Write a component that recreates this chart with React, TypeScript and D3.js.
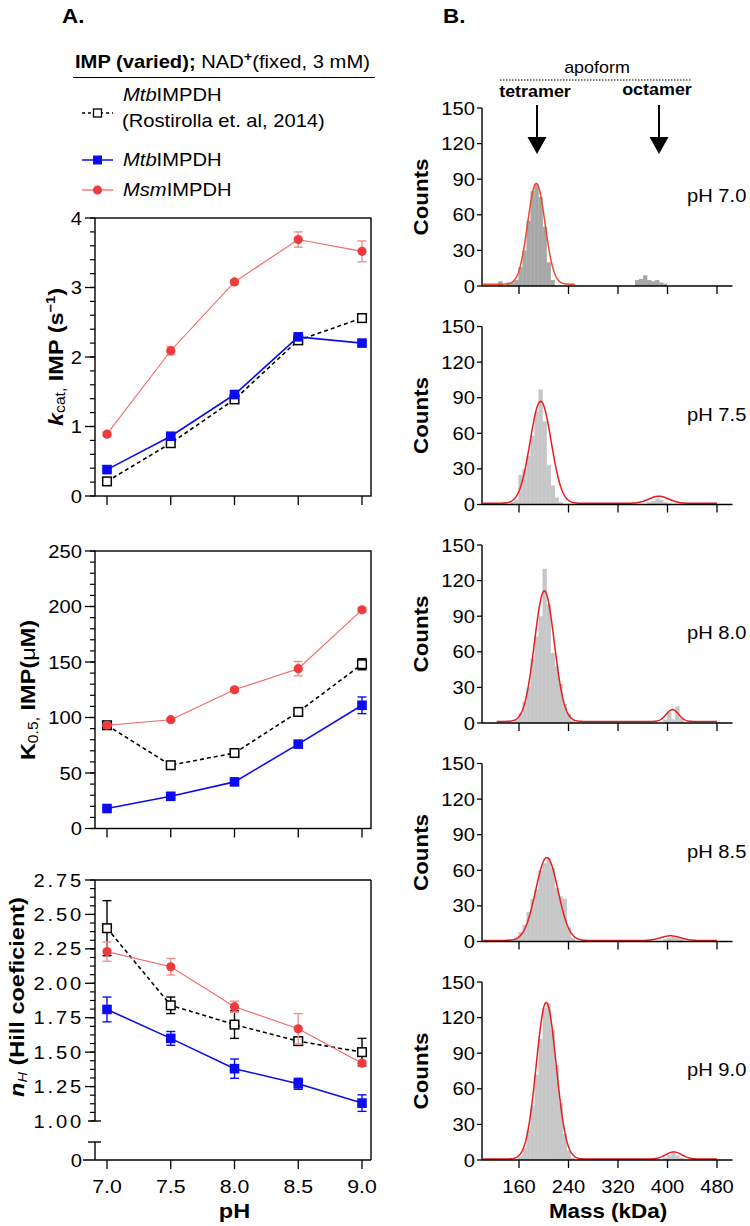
import React, { useEffect, useRef } from 'react';
import * as d3 from 'd3';

const FONT = "'Liberation Sans', Arial, Helvetica, sans-serif";
const SX = 1.12; // glyphs in this figure are set slightly wide

// ---- A. kinetic constants vs pH ----
const PH = [7.0, 7.5, 8.0, 8.5, 9.0];
const PH_TICK_LABELS = ['7.0', '7.5', '8.0', '8.5', '9.0'];

const KCAT_ROSTIROLLA = [0.21, 0.76, 1.39, 2.24, 2.56];
const KCAT_ROSTIROLLA_ERR = [0, 0, 0, 0, 0];
const KCAT_MTB = [0.38, 0.86, 1.46, 2.29, 2.2];
const KCAT_MTB_ERR = [0.02, 0.03, 0.03, 0.04, 0.03];
const KCAT_MSM = [0.89, 2.09, 3.08, 3.69, 3.52];
const KCAT_MSM_ERR = [0.03, 0.06, 0.03, 0.11, 0.15];

const K05_ROSTIROLLA = [93, 57, 68, 105, 148];
const K05_ROSTIROLLA_ERR = [0, 0, 0, 0, 5];
const K05_MTB = [18, 29, 42, 76, 111];
const K05_MTB_ERR = [1, 1.5, 1.5, 2, 7.5];
const K05_MSM = [93, 98, 125, 144, 197];
const K05_MSM_ERR = [1, 1, 2, 6.5, 2];

const NH_ROSTIROLLA = [2.4, 1.84, 1.7, 1.58, 1.5];
const NH_ROSTIROLLA_ERR = [0.2, 0.06, 0.1, 0.02, 0.1];
const NH_MTB = [1.81, 1.6, 1.38, 1.27, 1.13];
const NH_MTB_ERR = [0.09, 0.05, 0.07, 0.04, 0.06];
const NH_MSM = [2.23, 2.12, 1.83, 1.67, 1.42];
const NH_MSM_ERR = [0.07, 0.06, 0.04, 0.11, 0.02];

// ---- B. mass photometry histograms: [bin start (kDa), counts] ----
const BIN_KDA = 6.5;
const PH_LABELS = ['pH 7.0', 'pH 7.5', 'pH 8.0', 'pH 8.5', 'pH 9.0'];
const HIST_PH70 = [
  [126.5, 4], [139.5, 3], [146, 3], [152.5, 5], [159, 16], [165.5, 30], [172, 55], [178.5, 80],
  [185, 86], [191.5, 75], [198, 50], [204.5, 20], [211, 5],
  [347.5, 5], [354, 6], [360.5, 9], [367, 5], [373.5, 4], [380, 5], [386.5, 3], [393, 2],
];
const HIST_PH75 = [
  [133, 2], [146, 2], [152.5, 4], [159, 25], [165.5, 30], [172, 41], [178.5, 58], [185, 78],
  [191.5, 97], [198, 70], [204.5, 33], [211, 16], [217.5, 6], [224, 2],
  [367, 2], [373.5, 3], [380, 5], [386.5, 4], [393, 2], [399.5, 1],
];
const HIST_PH80 = [
  [152.5, 3], [159, 8], [165.5, 18], [172, 30], [178.5, 54], [185, 73], [191.5, 90], [198, 130],
  [204.5, 100], [211, 59], [217.5, 48], [224, 33], [230.5, 16], [237, 8], [243.5, 2],
  [393, 3], [399.5, 9], [406, 3], [412.5, 14], [419, 4],
];
const HIST_PH85 = [
  [139.5, 2], [152.5, 3], [159, 8], [165.5, 14], [172, 25], [178.5, 36], [185, 44], [191.5, 60],
  [198, 66], [204.5, 70], [211, 62], [217.5, 45], [224, 38], [230.5, 36], [237, 12], [243.5, 3],
  [393, 2], [399.5, 3], [406, 4], [412.5, 3], [419, 2],
];
const HIST_PH90 = [
  [159, 3], [165.5, 10], [172, 25], [178.5, 46], [185, 72], [191.5, 102], [198, 128], [204.5, 132],
  [211, 110], [217.5, 80], [224, 48], [230.5, 22], [237, 8], [243.5, 2],
  [393, 2], [399.5, 4], [406, 6], [412.5, 4], [419, 2],
];
const HISTOGRAMS = [HIST_PH70, HIST_PH75, HIST_PH80, HIST_PH85, HIST_PH90];

// gaussian fits: [amplitude, centre kDa, sigma kDa]
const FIT_TETRAMER = [[85, 188, 14], [86, 195, 17], [110, 201, 16], [70, 205, 18], [132, 204, 16]];
const FIT_OCTAMER = [[0, 0, 1], [6, 386, 16], [10, 408, 10], [4, 405, 16], [6, 410, 13]];
const FIT_BASE = [1.5, 1, 1.3, 0.8, 0.8];
const FIT_RANGE = [[102, 250], [102, 480], [124, 480], [102, 480], [102, 480]];

const MASS_TICKS = [160, 240, 320, 400, 480];
const COUNT_TICKS = [0, 30, 60, 90, 120, 150];

const BLUE = '#0c0cf2';
const RED = '#ef3b3b';
const RED_LINE = '#f06868';
const RED_ERR = '#f29090';

type Part = { t: string; b?: boolean; i?: boolean; size?: number; dy?: number };
type Sel = d3.Selection<any, unknown, null, undefined>;

function richText(parent: Sel, x: number, y: number, parts: Part[], size: number, anchor = 'start', rotate = false) {
  const el = parent.append('text')
    .attr('transform', `translate(${x},${y})${rotate ? ' rotate(-90)' : ''} scale(${SX},1)`)
    .attr('text-anchor', anchor)
    .style('font-family', FONT)
    .style('font-size', `${size}px`)
    .attr('fill', '#000');
  let cur = 0;
  parts.forEach(p => {
    const shift = p.dy ?? 0;
    el.append('tspan')
      .attr('dy', shift - cur)
      .style('font-weight', p.b ? 'bold' : 'normal')
      .style('font-style', p.i ? 'italic' : 'normal')
      .style('font-size', p.size ? `${p.size}px` : null)
      .text(p.t);
    cur = shift;
  });
  return el;
}

type Series = { values: number[]; err: number[]; kind: 'rost' | 'mtb' | 'msm' };

function drawSeries(g: Sel, x: d3.ScaleLinear<number, number>, y: d3.ScaleLinear<number, number>, s: Series) {
  const color = s.kind === 'rost' ? '#000' : s.kind === 'mtb' ? BLUE : RED;
  const errColor = s.kind === 'msm' ? RED_ERR : color;
  const pts = PH.map((p, i) => ({ p, v: s.values[i], e: s.err[i] }));

  const line = d3.line<{ p: number; v: number }>().x(d => x(d.p)).y(d => y(d.v));
  g.append('path')
    .datum(pts)
    .attr('fill', 'none')
    .attr('stroke', s.kind === 'msm' ? RED_LINE : color)
    .attr('stroke-width', s.kind === 'msm' ? 1.1 : 1.6)
    .attr('stroke-dasharray', s.kind === 'rost' ? '4,3' : null)
    .attr('d', line);

  pts.filter(d => d.e > 0).forEach(d => {
    const cx = x(d.p);
    g.append('line').attr('x1', cx).attr('x2', cx).attr('y1', y(d.v - d.e)).attr('y2', y(d.v + d.e))
      .attr('stroke', errColor).attr('stroke-width', 1.4);
    [d.v - d.e, d.v + d.e].forEach(v => {
      g.append('line').attr('x1', cx - 4.5).attr('x2', cx + 4.5).attr('y1', y(v)).attr('y2', y(v))
        .attr('stroke', errColor).attr('stroke-width', 1.4);
    });
  });

  pts.forEach(d => {
    const cx = x(d.p), cy = y(d.v);
    if (s.kind === 'msm') {
      g.append('circle').attr('cx', cx).attr('cy', cy).attr('r', 4.6).attr('fill', RED);
    } else if (s.kind === 'mtb') {
      g.append('rect').attr('x', cx - 4.8).attr('y', cy - 4.8).attr('width', 9.6).attr('height', 9.6).attr('fill', BLUE);
    } else {
      g.append('rect').attr('x', cx - 4.3).attr('y', cy - 4.3).attr('width', 8.6).attr('height', 8.6)
        .attr('fill', '#fff').attr('stroke', '#000').attr('stroke-width', 1.5);
    }
  });
}

const App: React.FC = () => {
  const svgRef = useRef<SVGSVGElement>(null);

  useEffect(() => {
    if (!svgRef.current) return;
    const svg = d3.select(svgRef.current);
    svg.selectAll('*').remove();

    // ---------- panel letters ----------
    richText(svg, 62, 23, [{ t: 'A.', b: true }], 20);
    richText(svg, 443, 23, [{ t: 'B.', b: true }], 20);

    // ---------- legend ----------
    richText(svg, 75, 68, [
      { t: 'IMP (varied);', b: true },
      { t: ' NAD' },
      { t: '+', b: true, size: 13, dy: -7 },
      { t: '(fixed, 3 mM)', dy: 0 },
    ], 18);
    svg.append('line').attr('x1', 73).attr('x2', 375).attr('y1', 77.5).attr('y2', 77.5)
      .attr('stroke', '#000').attr('stroke-width', 1.2);

    const lg = svg.append('g');
    lg.append('line').attr('x1', 82).attr('x2', 113).attr('y1', 113).attr('y2', 113)
      .attr('stroke', '#000').attr('stroke-width', 1.4).attr('stroke-dasharray', '3,3');
    lg.append('rect').attr('x', 93.5).attr('y', 109).attr('width', 8).attr('height', 8)
      .attr('fill', '#fff').attr('stroke', '#000').attr('stroke-width', 1.3);
    richText(lg, 123, 101, [{ t: 'Mtb', i: true }, { t: 'IMPDH' }], 18);
    richText(lg, 122, 127, [{ t: '(Rostirolla et. al, 2014)' }], 18);

    lg.append('line').attr('x1', 82).attr('x2', 113).attr('y1', 160).attr('y2', 160)
      .attr('stroke', BLUE).attr('stroke-width', 1.5);
    lg.append('rect').attr('x', 93).attr('y', 155.5).attr('width', 9).attr('height', 9).attr('fill', BLUE);
    richText(lg, 123, 166, [{ t: 'Mtb', i: true }, { t: 'IMPDH' }], 18);

    lg.append('line').attr('x1', 82).attr('x2', 113).attr('y1', 190).attr('y2', 190)
      .attr('stroke', RED_LINE).attr('stroke-width', 1.3);
    lg.append('circle').attr('cx', 97.5).attr('cy', 190).attr('r', 4.5).attr('fill', RED);
    richText(lg, 123, 196, [{ t: 'Msm', i: true }, { t: 'IMPDH' }], 18);

    // ---------- left kinetic panels ----------
    const FRAME_L = 95, FRAME_R = 371;
    const xPH = d3.scaleLinear().domain([7, 9]).range([107, 362]);

    const panels = [
      {
        y: d3.scaleLinear().domain([0, 4]).range([496, 218]),
        major: d3.range(0, 4.01, 1), minor: d3.range(0, 4.01, 0.2), fmt: (v: number) => `${v}`,
        series: [
          { values: KCAT_ROSTIROLLA, err: KCAT_ROSTIROLLA_ERR, kind: 'rost' },
          { values: KCAT_MTB, err: KCAT_MTB_ERR, kind: 'mtb' },
          { values: KCAT_MSM, err: KCAT_MSM_ERR, kind: 'msm' },
        ] as Series[],
        label: [
          { t: 'k', b: true, i: true },
          { t: 'cat,', size: 14, dy: 2 },
          { t: ' IMP (s', b: true, dy: 0 },
          { t: '\u22121', b: true, size: 13, dy: -8 },
          { t: ')', b: true, dy: 0 },
        ] as Part[],
        labelX: 63, labelY: 357,
      },
      {
        y: d3.scaleLinear().domain([0, 250]).range([828.5, 551]),
        major: d3.range(0, 251, 50), minor: d3.range(0, 251, 10), fmt: (v: number) => `${v}`,
        series: [
          { values: K05_ROSTIROLLA, err: K05_ROSTIROLLA_ERR, kind: 'rost' },
          { values: K05_MTB, err: K05_MTB_ERR, kind: 'mtb' },
          { values: K05_MSM, err: K05_MSM_ERR, kind: 'msm' },
        ] as Series[],
        label: [
          { t: 'K', b: true },
          { t: '0.5,', size: 14, dy: 3 },
          { t: ' IMP(', b: true, dy: 0 },
          { t: '\u03bc' },
          { t: 'M)', b: true },
        ] as Part[],
        labelX: 35, labelY: 690,
      },
    ];

    panels.forEach(pn => {
      const g = svg.append('g');
      const [bottom, top] = pn.y.range();
      g.append('rect').attr('x', FRAME_L).attr('y', top).attr('width', FRAME_R - FRAME_L).attr('height', bottom - top)
        .attr('fill', 'none').attr('stroke', '#000').attr('stroke-width', 1.4);
      pn.minor.forEach(v => {
        g.append('line').attr('x1', FRAME_L - 5).attr('x2', FRAME_L).attr('y1', pn.y(v)).attr('y2', pn.y(v))
          .attr('stroke', '#000').attr('stroke-width', 1.2);
      });
      pn.major.forEach(v => {
        g.append('line').attr('x1', FRAME_L - 10).attr('x2', FRAME_L).attr('y1', pn.y(v)).attr('y2', pn.y(v))
          .attr('stroke', '#000').attr('stroke-width', 1.3);
        richText(g, 82, pn.y(v) + 6.5, [{ t: pn.fmt(v) }], 18, 'end');
      });
      PH.forEach(p => {
        g.append('line').attr('x1', xPH(p)).attr('x2', xPH(p)).attr('y1', bottom).attr('y2', bottom + 9)
          .attr('stroke', '#000').attr('stroke-width', 1.3);
      });
      pn.series.forEach(s => drawSeries(g, xPH, pn.y, s));
      richText(g, pn.labelX, pn.labelY, pn.label, 21, 'middle', true);
    });

    // Hill coefficient panel with a broken y axis
    {
      const g = svg.append('g');
      const yU = d3.scaleLinear().domain([1, 2.75]).range([1121, 880]);
      const yZero = 1160, breakTop = 1142;
      const st = (s: Sel) => s.attr('stroke', '#000').attr('stroke-width', 1.4);
      st(g.append('line').attr('x1', FRAME_L).attr('x2', FRAME_R).attr('y1', 880).attr('y2', 880));
      st(g.append('line').attr('x1', FRAME_R).attr('x2', FRAME_R).attr('y1', 880).attr('y2', yZero));
      st(g.append('line').attr('x1', FRAME_L - 12).attr('x2', FRAME_R).attr('y1', yZero).attr('y2', yZero));
      st(g.append('line').attr('x1', FRAME_L).attr('x2', FRAME_L).attr('y1', 880).attr('y2', 1121));
      st(g.append('line').attr('x1', FRAME_L).attr('x2', FRAME_L).attr('y1', breakTop).attr('y2', yZero));
      st(g.append('line').attr('x1', FRAME_L - 7).attr('x2', FRAME_L + 6).attr('y1', 1121).attr('y2', 1121));
      st(g.append('line').attr('x1', FRAME_L - 7).attr('x2', FRAME_L + 6).attr('y1', breakTop).attr('y2', breakTop));
      d3.range(1, 2.751, 0.0625).forEach(v => {
        g.append('line').attr('x1', FRAME_L - 5).attr('x2', FRAME_L).attr('y1', yU(v)).attr('y2', yU(v))
          .attr('stroke', '#000').attr('stroke-width', 1.2);
      });
      d3.range(1, 2.751, 0.25).forEach(v => {
        if (v > 1) {
          g.append('line').attr('x1', FRAME_L - 10).attr('x2', FRAME_L).attr('y1', yU(v)).attr('y2', yU(v))
            .attr('stroke', '#000').attr('stroke-width', 1.3);
        }
        richText(g, 84, yU(v) + 6.5, [{ t: v.toFixed(2) }], 18, 'end').attr('letter-spacing', 2.5);
      });
      richText(g, 82, yZero + 6.5, [{ t: '0' }], 18, 'end');
      PH.forEach((p, i) => {
        g.append('line').attr('x1', xPH(p)).attr('x2', xPH(p)).attr('y1', yZero).attr('y2', yZero + 9)
          .attr('stroke', '#000').attr('stroke-width', 1.3);
        richText(g, xPH(p), 1193, [{ t: PH_TICK_LABELS[i] }], 19, 'middle');
      });
      drawSeries(g, xPH, yU, { values: NH_ROSTIROLLA, err: NH_ROSTIROLLA_ERR, kind: 'rost' });
      drawSeries(g, xPH, yU, { values: NH_MTB, err: NH_MTB_ERR, kind: 'mtb' });
      drawSeries(g, xPH, yU, { values: NH_MSM, err: NH_MSM_ERR, kind: 'msm' });
      richText(g, 24, 997, [
        { t: 'n', b: true, i: true },
        { t: 'H', i: true, size: 13, dy: 3 },
        { t: ' (Hill coeficient)', b: true, dy: 0 },
      ], 21, 'middle', true);
      richText(g, xPH(8), 1218, [{ t: 'pH', b: true }], 21, 'middle');
    }

    // ---------- B. histograms ----------
    const AX_L = 482;
    const xMass = d3.scaleLinear().domain([160, 480]).range([519, 717]);

    richText(svg, 597, 73, [{ t: 'apoform' }], 16, 'middle');
    svg.append('line').attr('x1', 500).attr('x2', 692).attr('y1', 80).attr('y2', 80)
      .attr('stroke', '#000').attr('stroke-width', 1.2).attr('stroke-dasharray', '1.5,1.5');
    [{ t: 'tetramer', x: 535, y: 97, ax: 537 }, { t: 'octamer', x: 657, y: 95, ax: 659 }].forEach(a => {
      richText(svg, a.x, a.y, [{ t: a.t, b: true }], 16, 'middle');
      svg.append('line').attr('x1', a.ax).attr('x2', a.ax).attr('y1', 105).attr('y2', 140)
        .attr('stroke', '#000').attr('stroke-width', 2);
      svg.append('path').attr('d', `M${a.ax - 9.5},137 L${a.ax + 9.5},137 L${a.ax},154 Z`).attr('fill', '#000');
    });

    HISTOGRAMS.forEach((bins, i) => {
      const y0 = 286 + 218.5 * i;
      const y = d3.scaleLinear().domain([0, 150]).range([y0, y0 - 178]);
      const g = svg.append('g');

      g.selectAll('rect.bar')
        .data(bins)
        .join('rect')
        .attr('class', 'bar')
        .attr('x', d => xMass(d[0]))
        .attr('width', d => xMass(d[0] + BIN_KDA) - xMass(d[0]) + 0.3)
        .attr('y', d => y(d[1]))
        .attr('height', d => y0 - y(d[1]))
        .attr('fill', i === 0 ? '#a7a7a7' : '#c7c7c7');

      const [a1, c1, s1] = FIT_TETRAMER[i];
      const [a2, c2, s2] = FIT_OCTAMER[i];
      const fit = (m: number) => FIT_BASE[i]
        + a1 * Math.exp(-((m - c1) ** 2) / (2 * s1 * s1))
        + a2 * Math.exp(-((m - c2) ** 2) / (2 * s2 * s2));
      const masses = d3.range(FIT_RANGE[i][0], FIT_RANGE[i][1] + 0.01, 1);
      g.append('path')
        .datum(masses)
        .attr('fill', 'none')
        .attr('stroke', i === 0 ? '#ee4a2c' : '#e81e1e')
        .attr('stroke-width', 1.5)
        .attr('d', d3.line<number>().x(m => xMass(m)).y(m => y(fit(m))));

      // axes
      g.append('line').attr('x1', AX_L).attr('x2', AX_L).attr('y1', y(150)).attr('y2', y0)
        .attr('stroke', '#000').attr('stroke-width', 1.4);
      g.append('line').attr('x1', AX_L).attr('x2', xMass(505)).attr('y1', y0).attr('y2', y0)
        .attr('stroke', '#000').attr('stroke-width', 1.4);
      COUNT_TICKS.forEach(v => {
        g.append('line').attr('x1', AX_L - 5).attr('x2', AX_L).attr('y1', y(v)).attr('y2', y(v))
          .attr('stroke', '#000').attr('stroke-width', 1.3);
        richText(g, 475, y(v) + 6.5, [{ t: `${v}` }], 18, 'end');
      });
      MASS_TICKS.forEach(m => {
        g.append('line').attr('x1', xMass(m)).attr('x2', xMass(m)).attr('y1', y0).attr('y2', y0 + 8)
          .attr('stroke', '#000').attr('stroke-width', 1.3);
        if (i === HISTOGRAMS.length - 1) {
          richText(g, xMass(m), 1193, [{ t: `${m}` }], 18, 'middle');
        }
      });
      richText(g, 428, (y(0) + y(150)) / 2, [{ t: 'Counts', b: true }], 20, 'middle', true);
      richText(g, 687, y0 - 84, [{ t: PH_LABELS[i] }], 18);
    });

    richText(svg, 608, 1218, [{ t: 'Mass (kDa)', b: true }], 20, 'middle');
  }, []);

  return (
    <svg
      ref={svgRef}
      width={750}
      height={1226}
      style={{ position: 'absolute', left: 0, top: 0, background: '#fff' }}
    />
  );
};

export default App;
